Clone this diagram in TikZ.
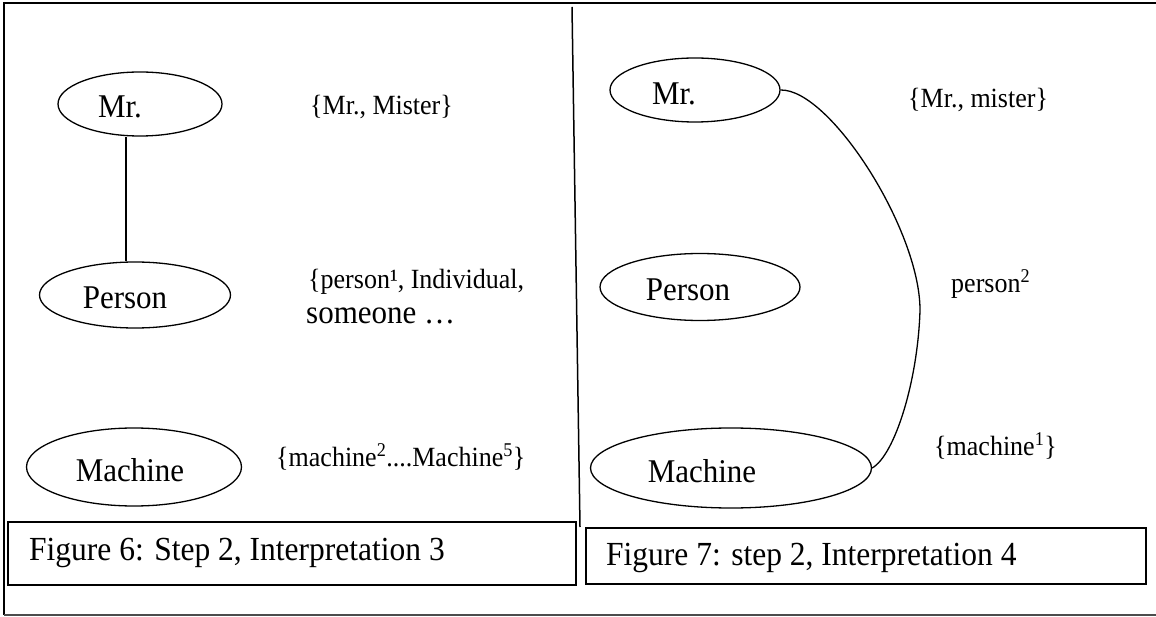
\documentclass[tikz,border=0pt]{standalone}
\usepackage{fontspec}
\setmainfont{Liberation Serif}
\usetikzlibrary{shapes.geometric}
\begin{document}
\begin{tikzpicture}[x=1pt,y=-1pt,
  tall/.style={yscale=1.07, transform shape},
  oval/.style={draw, ellipse, line width=1.3pt, inner sep=0pt},
  ovaltext/.style={tall, inner sep=0pt, font=\fontsize{31}{36}\selectfont},
  setlabel/.style={tall, anchor=west, inner sep=0pt, font=\fontsize{26}{30}\selectfont},
  biglabel/.style={tall, anchor=west, inner sep=0pt, font=\fontsize{31}{36}\selectfont},
  capbox/.style={draw, line width=2pt, inner sep=0pt},
  captext/.style={tall, anchor=west, inner sep=0pt, font=\fontsize{31.5}{36}\selectfont},
  link/.style={line width=1.3pt}]
\useasboundingbox (0,0) rectangle (1156,617);

% outer frame (open on the right)
\draw[line width=2pt] (1156,3) -- (4,3) -- (4,615);
\draw[line width=2pt, black!70] (4,615) -- (1156,615);
% divider between the two figures
\draw[line width=1.5pt] (572,7) -- (580,527);

% ---- Figure 6 ----
\node[oval, minimum width=164, minimum height=64] (mrA) at (140,104) {};
\node[ovaltext] (mrAt) at (120,107) {Mr.};
\node[oval, minimum width=191, minimum height=66] (personA) at (135,295) {};
\node[ovaltext] (personAt) at (125,298) {Person};
\node[oval, minimum width=215, minimum height=78] (machineA) at (134,467) {};
\node[ovaltext] (machineAt) at (130,470) {Machine};
\draw[link] ([xshift=-14]mrA.south) -- ([xshift=-9]personA.north);

\node[setlabel] (mrAset) at (310,107) {\{Mr., Mister\}};
\node[setlabel] (personAset) at (308,282) {\{person¹, Individual,};
\node[biglabel] (personAmore) at (306,316) {someone …};
\node[setlabel] (machineAset) at (276,457) {\{machine\textsuperscript{2}....Machine\textsuperscript{5}\}};

\node[capbox, minimum width=568.5, minimum height=63] (cap6) at (291.75,553.5) {};
\node[captext] (cap6t) at (29,553) {Figure 6: Step 2, Interpretation 3};

% ---- Figure 7 ----
\node[oval, minimum width=170, minimum height=64] (mrB) at (695,90) {};
\node[ovaltext] (mrBt) at (674,94) {Mr.};
\node[oval, minimum width=200, minimum height=67] (personB) at (700,287) {};
\node[ovaltext] (personBt) at (688,290) {Person};
\node[oval, minimum width=281, minimum height=80] (machineB) at (731,468) {};
\node[ovaltext] (machineBt) at (702,471) {Machine};
\coordinate (bend) at (920,310);
\draw[link] (mrB.east) .. controls (830,89) and (920,230) .. (bend)
  .. controls (918,380) and (895,455) .. (machineB.east);

\node[setlabel] (mrBset) at (908,100) {\{Mr., mister\}};
\node[setlabel] (personBset) at (951,284) {person\textsuperscript{2}};
\node[setlabel] (machineBset) at (934,446) {\{machine\textsuperscript{1}\}};

\node[capbox, minimum width=560, minimum height=56] (cap7) at (866,556) {};
\node[captext] (cap7t) at (606,558) {Figure 7: step 2, Interpretation 4};
\end{tikzpicture}
\end{document}
